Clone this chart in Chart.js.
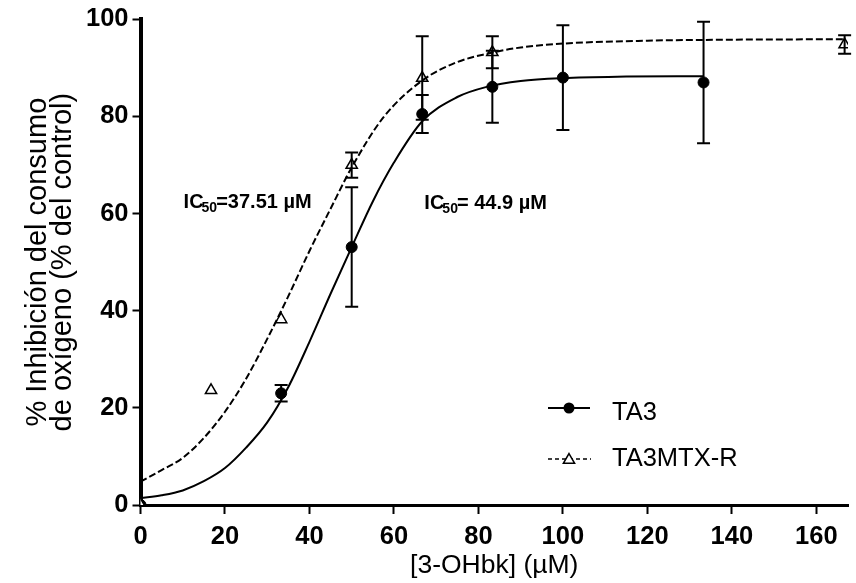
<!DOCTYPE html>
<html>
<head>
<meta charset="utf-8">
<script src="https://cdn.jsdelivr.net/npm/chart.js@4/dist/chart.umd.min.js"></script>
<style>
  body { margin: 0; background: #fff; }
  canvas { display: block; }
</style>
</head>
<body>
<canvas id="grafico" width="856" height="583"></canvas>
<script>
// concentraciones medidas (µM) y % de inhibición, media ± error
const ta3X = [0, 33.3, 50, 66.7, 83.3, 100, 133.3];
const ta3Y = [0, 23.0, 53.1, 80.5, 86.1, 88.0, 87.0];
const ta3Err = [0, 1.7, 12.3, 3.9, 7.4, 10.8, 12.5];

const mtxX = [0, 16.7, 33.3, 50, 66.7, 83.3, 166.7];
const mtxY = [0, 23.6, 38.2, 70.0, 87.9, 93.2, 94.8];
const mtxErr = [0, 0, 0, 2.6, 8.6, 3.3, 1.9];

// curvas de ajuste (dosis-respuesta)
const curvaTa3X = [0, 5, 10, 15, 20, 25, 30, 35, 40, 45, 50, 55, 60, 66.7, 75, 82, 90, 100, 115, 133.3];
const curvaTa3Y = [1.4, 2.0, 3.0, 4.9, 7.6, 11.8, 17.0, 24.3, 33.6, 43.5, 53.1, 62.5, 70.5, 79.0, 84.0, 86.1, 87.3, 87.9, 88.2, 88.3];

const curvaMtxX = [0, 5, 10, 15, 20, 25, 30, 35, 40, 45, 50, 57.5, 66.7, 75, 82, 90, 100, 120, 140, 166.7];
const curvaMtxY = [4.8, 7.2, 9.7, 13.8, 19.2, 26.0, 34.2, 43.0, 52.3, 61.0, 69.5, 79.8, 87.4, 91.2, 92.9, 94.2, 95.0, 95.6, 95.8, 95.9];

const xTicks = [0, 20, 40, 60, 80, 100, 120, 140, 160];
const yTicks = [0, 20, 40, 60, 80, 100];

const serieTa3 = 'TA3';
const serieMtx = 'TA3MTX-R';
const ic50Ta3 = '44.9';
const ic50Mtx = '37.51';

const fuente = "'Liberation Sans', Arial, sans-serif";

function puntos(xs, ys) {
    return xs.map((x, i) => ({ x: x, y: ys[i] }));
}

// barras de error verticales con remates
const barrasError = {
    id: 'barrasError',
    afterDatasetsDraw(chart) {
        const ctx = chart.ctx;
        const sx = chart.scales.x, sy = chart.scales.y;
        ctx.save();
        ctx.strokeStyle = '#000';
        ctx.lineWidth = 2;
        chart.data.datasets.forEach(ds => {
            if (!ds.errores) return;
            ds.data.forEach((p, i) => {
                const e = ds.errores[i];
                if (!e) return;
                const px = sx.getPixelForValue(p.x);
                const top = sy.getPixelForValue(p.y + e);
                const bot = sy.getPixelForValue(p.y - e);
                ctx.beginPath();
                ctx.moveTo(px, top); ctx.lineTo(px, bot);
                ctx.moveTo(px - 6.5, top); ctx.lineTo(px + 6.5, top);
                ctx.moveTo(px - 6.5, bot); ctx.lineTo(px + 6.5, bot);
                ctx.stroke();
            });
        });
        ctx.restore();
    }
};

function triangulo(ctx, x, y, r) {
    ctx.beginPath();
    for (let k = 0; k < 3; k++) {
        const a = k * 2 * Math.PI / 3;
        const px = x + Math.sin(a) * r, py = y - Math.cos(a) * r;
        if (k === 0) ctx.moveTo(px, py); else ctx.lineTo(px, py);
    }
    ctx.closePath();
    ctx.fillStyle = '#fff';
    ctx.fill();
    ctx.lineWidth = 1.5;
    ctx.stroke();
}

// textos IC50 y leyenda dentro del gráfico
const anotaciones = {
    id: 'anotaciones',
    afterDraw(chart) {
        const ctx = chart.ctx;
        const sx = chart.scales.x, sy = chart.scales.y;
        ctx.save();
        ctx.fillStyle = '#000';
        ctx.strokeStyle = '#000';
        ctx.textBaseline = 'alphabetic';

        function ic50(xv, yv, valor) {
            let x = sx.getPixelForValue(xv);
            const y = sy.getPixelForValue(yv);
            ctx.font = 'bold 20px ' + fuente;
            ctx.fillText('IC', x, y);
            x += ctx.measureText('IC').width - 2;
            ctx.font = 'bold 14px ' + fuente;
            ctx.fillText('50', x, y + 4);
            x += ctx.measureText('50').width - 1;
            ctx.font = 'bold 20px ' + fuente;
            ctx.fillText(valor, x, y);
        }
        ic50(10.2, 61.2, '=' + ic50Mtx + ' µM');
        ic50(67.2, 61.0, '= ' + ic50Ta3 + ' µM');

        // leyenda
        ctx.lineWidth = 2;
        ctx.beginPath();
        ctx.moveTo(548, 408); ctx.lineTo(590, 408);
        ctx.stroke();
        ctx.beginPath();
        ctx.arc(569, 408, 5.5, 0, 2 * Math.PI);
        ctx.fill();

        ctx.setLineDash([4, 3]);
        ctx.lineWidth = 1.5;
        ctx.beginPath();
        ctx.moveTo(548, 459); ctx.lineTo(591, 459);
        ctx.stroke();
        ctx.setLineDash([]);
        triangulo(ctx, 569, 460, 6.5);

        ctx.fillStyle = '#000';
        ctx.font = '25.5px ' + fuente;
        ctx.textBaseline = 'middle';
        ctx.fillText(serieTa3, 612, 413);
        ctx.fillText(serieMtx, 612, 459);
        ctx.restore();
    }
};

const ctx = document.querySelector('#grafico');

new Chart(ctx, {
    type: 'scatter',
    data: {
        datasets: [
            {
                label: serieTa3 + ' ajuste',
                data: puntos(curvaTa3X, curvaTa3Y),
                showLine: true,
                borderColor: '#000',
                borderWidth: 2,
                pointRadius: 0,
                cubicInterpolationMode: 'monotone'
            },
            {
                label: serieMtx + ' ajuste',
                data: puntos(curvaMtxX, curvaMtxY),
                showLine: true,
                borderColor: '#000',
                borderWidth: 2,
                borderDash: [7, 3],
                pointRadius: 0,
                cubicInterpolationMode: 'monotone'
            },
            {
                label: serieMtx,
                data: puntos(mtxX, mtxY),
                errores: mtxErr,
                pointStyle: 'triangle',
                pointRadius: 6.5,
                backgroundColor: '#fff',
                borderColor: '#000',
                borderWidth: 1.5
            },
            {
                label: serieTa3,
                data: puntos(ta3X, ta3Y),
                errores: ta3Err,
                pointStyle: 'circle',
                pointRadius: 5.5,
                backgroundColor: '#000',
                borderColor: '#000',
                borderWidth: 1
            }
        ]
    },
    options: {
        responsive: false,
        animation: false,
        devicePixelRatio: 1,
        layout: { padding: { top: 19, right: 0, left: 0, bottom: 0 } },
        plugins: {
            legend: { display: false },
            tooltip: { enabled: false }
        },
        scales: {
            x: {
                type: 'linear',
                min: 0,
                max: 167.5,
                afterFit: s => { s.height = 78; },
                afterBuildTicks: s => { s.ticks = xTicks.map(v => ({ value: v })); },
                border: { display: true, color: '#000', width: 3 },
                grid: { drawOnChartArea: false, drawTicks: true, tickLength: 9, tickWidth: 2, tickColor: '#000' },
                ticks: {
                    color: '#000',
                    padding: 8,
                    maxRotation: 0,
                    font: { family: fuente, size: 25.5, weight: 'bold' }
                },
                title: {
                    display: true,
                    text: '[3-OHbk] (µM)',
                    color: '#000',
                    padding: { top: 0, bottom: 4 },
                    font: { family: fuente, size: 26.5, lineHeight: 1.0 }
                }
            },
            y: {
                type: 'linear',
                min: 0,
                max: 100,
                afterFit: s => { s.width = 140.5; },
                afterBuildTicks: s => { s.ticks = yTicks.map(v => ({ value: v })); },
                border: { display: true, color: '#000', width: 4 },
                grid: { drawOnChartArea: false, drawTicks: true, tickLength: 8, tickWidth: 2, tickColor: '#000' },
                ticks: {
                    color: '#000',
                    padding: 4,
                    font: { family: fuente, size: 25.5, weight: 'bold' }
                },
                title: {
                    display: true,
                    text: ['% Inhibición del consumo', 'de oxígeno (% del control)'],
                    color: '#000',
                    padding: { top: 25.5, bottom: 0 },
                    font: { family: fuente, size: 29, lineHeight: 0.86 }
                }
            }
        }
    },
    plugins: [barrasError, anotaciones]
});
</script>
</body>
</html>
